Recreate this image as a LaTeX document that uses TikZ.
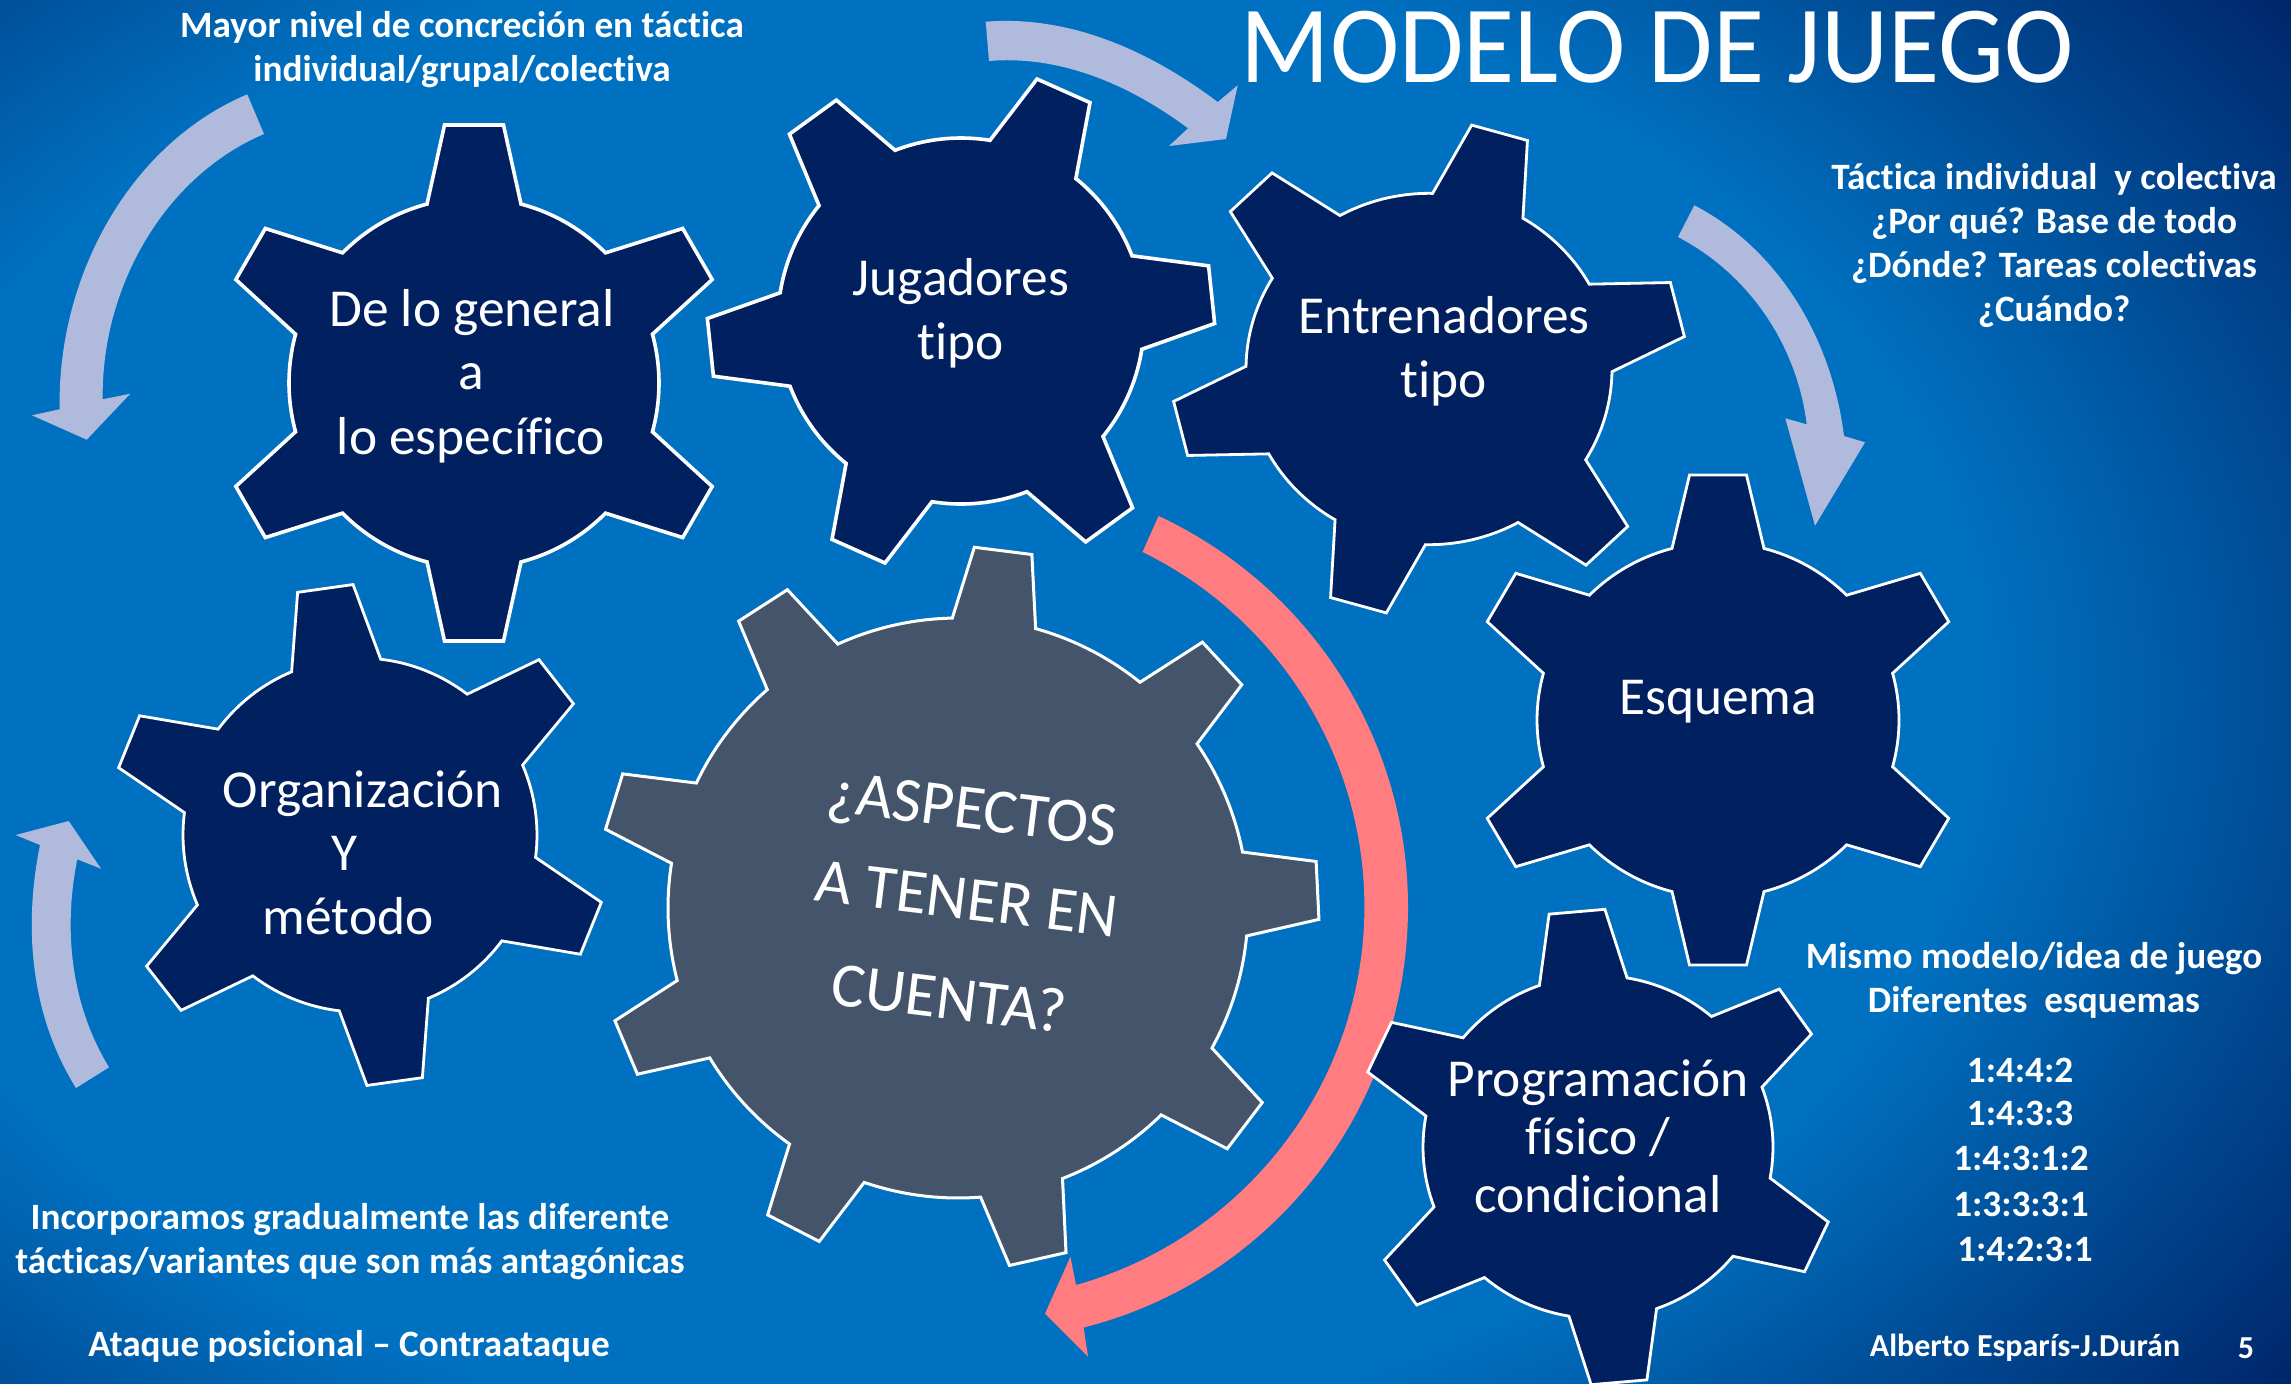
\documentclass[tikz,border=0pt]{standalone}
\usepackage{fontspec}
\setmainfont[RawFeature=-liga]{Carlito}
\definecolor{gearblue}{HTML}{002060}
\definecolor{gearslate}{HTML}{44546A}
\definecolor{lightarrow}{HTML}{AFBADC}
\definecolor{pinkarrow}{HTML}{FF7C80}
\definecolor{bgmid}{HTML}{0070C0}
\definecolor{bgedge}{HTML}{004C95}
\definecolor{bgdark}{HTML}{00246A}
\pgfdeclareradialshading{bgshade}{\pgfpoint{0bp}{0bp}}{%
  color(0bp)=(bgmid);color(19.5bp)=(bgmid);color(25bp)=(bgedge);color(31bp)=(bgdark);color(50bp)=(bgdark)}
% #1 cx, #2 cy, #3 transform, #4 last tooth index, #5 rb, #6 R, #7 half base, #8 half tip, #9 style
\newcommand{\gearshape}[9]{%
  \begin{scope}[shift={(#1,#2)},x=0.5pt,y=0.5pt,#3]
    \pgfmathsetmacro\gAl{asin(#7/#5)}
    \pgfmathsetmacro\gTa{atan(#8/#6)}
    \pgfmathsetmacro\gRc{veclen(#6,#8)}
    \pgfmathsetmacro\gSt{360/(#4+1)}
    \path[#9] (-\gAl:#5) \foreach \k in {0,...,#4} {
      -- ({\k*\gSt-\gTa}:\gRc) -- ({\k*\gSt+\gTa}:\gRc) -- ({\k*\gSt+\gAl}:#5)
      arc[start angle={\k*\gSt+\gAl},end angle={(\k+1)*\gSt-\gAl},radius=#5*0.5pt]
    } -- cycle;
  \end{scope}}
\tikzset{
  gearA/.style={fill=gearblue,draw=white,line width=1.8pt,miter limit=10},
  gearB/.style={fill=gearblue,draw=white,line width=1.4pt,miter limit=10},
  gearC/.style={fill=gearslate,draw=white,line width=1.5pt,miter limit=10},
  curvedlight/.style={fill=lightarrow,draw=none},
  curvedpink/.style={fill=pinkarrow,draw=none},
  geartext/.style={text=white,align=center,inner sep=0pt,font=\fontsize{26.7}{32}\selectfont},
  bigtext/.style={text=white,inner sep=0pt,anchor=base,rotate=-7,font=\fontsize{31.6}{38}\selectfont},
  smalltext/.style={text=white,align=center,inner sep=0pt,font=\bfseries\fontsize{18.6}{22}\selectfont},
}
\begin{document}
\begin{tikzpicture}[x=0.5pt,y=-0.5pt]
\useasboundingbox (0,0) rectangle (2291,1383);
\begin{scope}
  \clip (0,0) rectangle (2291,1383);
  \shade[shading=bgshade] (-459,-269) rectangle (2291,1652);
\end{scope}
% light arrows
\path[curvedlight] (247.3,94.3) .. controls (127.7,145) and (57,279) .. (59.7,409.3)
  -- (32,415.3) -- (86.7,439.7) -- (130.3,393.7) -- (102.7,399.3)
  .. controls (101,289) and (163,177) .. (264,134) -- cycle;
\path[curvedlight] (985.7,21.7) .. controls (1070,15) and (1150,51) .. (1217.7,102)
  -- (1237.7,85.3) -- (1226,139) -- (1169,146) -- (1188,128.3)
  .. controls (1130,85) and (1061,55) .. (989,61) -- cycle;
\path[curvedlight] (1694.3,205.3) .. controls (1780,250) and (1832,340) .. (1844,436)
  -- (1865,442.3) -- (1815,525.7) -- (1785.3,418.3) -- (1806.7,424.3)
  .. controls (1797,345) and (1749,274) .. (1678,237) -- cycle;
\path[curvedlight] (76,1088) .. controls (31,1016) and (23,928) .. (40,845)
  -- (15.7,835) -- (68.7,821) -- (101,868.7) -- (77.3,859.3)
  .. controls (63,930) and (71,1005) .. (109,1067.3) -- cycle;
% gears
\gearshape{474}{383}{rotate=30}{5}{185}{258}{47}{29.5}{gearA}
\gearshape{961}{321}{rotate=6}{5}{183}{252}{47}{29}{gearA}
\gearshape{1429}{369}{yscale=.96,rotate=14}{5}{183}{256}{47}{29}{gearB}
\gearshape{1718}{720}{yscale=.98,rotate=30}{5}{181}{250}{46}{28.5}{gearB}
\gearshape{360}{835}{rotate=38}{5}{177}{249}{45}{28}{gearB}
\gearshape{958}{908}{rotate=2.8}{8}{290}{360}{42}{29}{gearC}
% pink arrow
\path[curvedpink] (1158.6,516) .. controls (1310.6,587) and (1408,739) .. (1408,906.7)
  .. controls (1408,1104.7) and (1275.6,1279) .. (1083.6,1327.5)
  -- (1088,1356.5) -- (1045,1313.7) -- (1070.4,1256.7) -- (1076,1285)
  .. controls (1245.5,1237.5) and (1364.4,1082.7) .. (1364.4,906.7)
  .. controls (1364.4,756) and (1278,618) .. (1142.5,552) -- cycle;
\gearshape{1598}{1147}{yscale=.98,rotate=35}{5}{175}{241}{44}{28}{gearB}
% gear labels
\node[geartext] (general1) at (472,313) {De lo general};
\node[geartext] (general2) at (471,377) {a};
\node[geartext] (general3) at (471,440) {lo específico};
\node[geartext] (jugadores) at (961,313.5) {Jugadores\\tipo};
\node[geartext] (entrenadores) at (1444,351.5) {Entrenadores\\tipo};
\node[geartext] (esquema) at (1718,702) {Esquema};
\node[geartext] (org1) at (363,794) {Organización};
\node[geartext] (org2) at (345,853) {Y};
\node[geartext] (org3) at (348,916) {método};
\node[geartext,font=\fontsize{26.7}{29}\selectfont] (programacion) at (1598,1136) {Programación\\físico /\\condicional};
\node[bigtext] (aspectos1) at (970.1,829) {¿ASPECTOS};
\node[bigtext] (aspectos2) at (964.4,919) {A TENER EN};
\node[bigtext] (aspectos3) at (946.7,1019) {CUENTA?};
% title and notes
\node[text=white,inner sep=0pt,xscale=.95,font=\fontsize{55}{60}\selectfont] (title) at (1657,47) {MODELO DE JUEGO};
\node[smalltext] (notetop) at (462,50) {Mayor nivel de concreción en táctica\\individual/grupal/colectiva};
\node[smalltext] (noteright) at (2054,245) {Táctica individual\ \ y colectiva\\¿Por qué? Base de todo\\¿Dónde? Tareas colectivas\\¿Cuándo?};
\node[smalltext] (notemodel) at (2034,980) {Mismo modelo/idea de juego\\Diferentes\ \ esquemas};
\node[smalltext] (sch1) at (2020,1070) {1:4:4:2};
\node[smalltext] (sch2) at (2020,1113) {1:4:3:3};
\node[smalltext] (sch3) at (2021,1158) {1:4:3:1:2};
\node[smalltext] (sch4) at (2021,1204) {1:3:3:3:1};
\node[smalltext] (sch5) at (2025,1249) {1:4:2:3:1};
\node[smalltext] (notebottom) at (350,1241.5) {Incorporamos gradualmente las diferente\\tácticas/variantes que son más antagónicas};
\node[smalltext] (ataque) at (349,1346) {Ataque posicional – Contraataque};
\node[smalltext,font=\bfseries\fontsize{16}{20}\selectfont] (autor) at (2025,1348) {Alberto Esparís-J.Durán};
\node[smalltext,font=\bfseries\fontsize{16}{20}\selectfont] (pagina) at (2246,1348) {5};
\end{tikzpicture}
\end{document}
